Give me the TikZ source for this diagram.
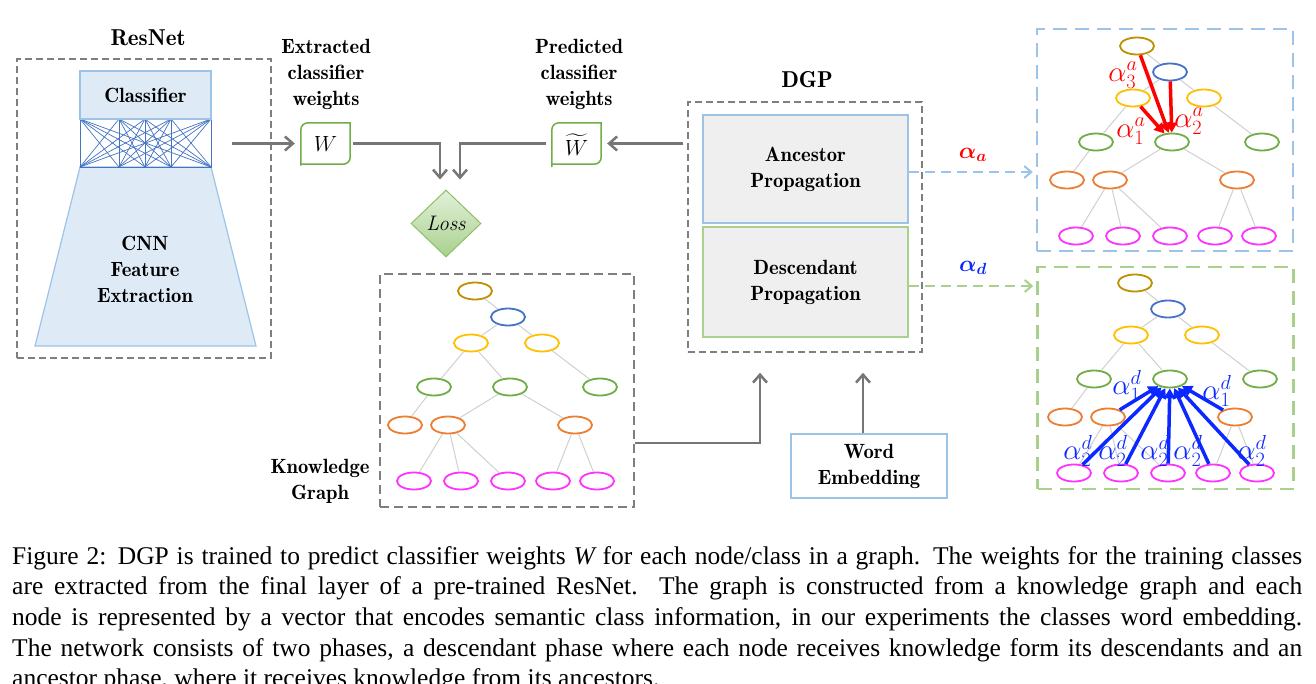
\documentclass[tikz,border=0pt]{standalone}
\usepackage{fix-cm}
\usepackage{amsmath,bm}
\usepackage{fontspec}
\newfontfamily\capfont{Liberation Serif}
\newfontfamily\demifont{lmromandemi10-regular.otf}
\usetikzlibrary{arrows.meta,shapes.geometric,calc}

\definecolor{boxgray}{HTML}{7F7F7F}
\definecolor{arrgray}{HTML}{767676}
\definecolor{ltblue}{HTML}{9DC3E6}
\definecolor{fillblue}{HTML}{DEEBF7}
\definecolor{meshblue}{HTML}{4472C4}
\definecolor{ltgreen}{HTML}{A9D18E}
\definecolor{wgreen}{HTML}{70AD47}
\definecolor{propgray}{HTML}{EFEFEF}
\definecolor{lossTop}{HTML}{E2F0D9}
\definecolor{lossBot}{HTML}{A9D18E}
\definecolor{lossEdge}{HTML}{8CC068}
\definecolor{cRoot}{HTML}{BF9000}
\definecolor{cBlue}{HTML}{4472C4}
\definecolor{cYellow}{HTML}{FFC000}
\definecolor{cGreen}{HTML}{70AD47}
\definecolor{cOrange}{HTML}{ED7D31}
\definecolor{cPink}{HTML}{FF33FF}
\definecolor{edgegray}{HTML}{D0D0D0}
\definecolor{alphared}{HTML}{FF0000}
\definecolor{alphablue}{HTML}{0A28FF}

\tikzset{
    lab/.style={font=\demifont\fontsize{20.6}{26}\selectfont, align=center, inner sep=0pt},
    bigtitle/.style={font=\demifont\fontsize{23}{28}\selectfont, inner sep=0pt},
    graybox/.style={draw=boxgray, line width=1.5pt, dash pattern=on 7pt off 4pt, inner sep=0pt},
    kgbox/.style={draw=boxgray, line width=2pt, dash pattern=on 9pt off 5pt, inner sep=0pt},
    grayarr/.style={draw=arrgray, line width=2.5pt, -{Straight Barb[length=8pt,width=14pt]}},
    propbox/.style={lab, fill=propgray, line width=2pt, minimum width=205pt},
    gnode/.style={ellipse, draw=#1, line width=1.8pt, minimum width=34pt, minimum height=17pt, inner sep=0pt},
    gedge/.style={draw=edgegray, line width=1pt},
    dashbox/.style={draw=#1, line width=2.5pt, dash pattern=on 14pt off 8pt, inner sep=0pt,
        minimum width=256pt, minimum height=222pt},
    dasharr/.style={draw=#1, line width=2pt, dash pattern=on 10pt off 6pt, -{Straight Barb[length=7pt,width=12pt]}},
    thickarr/.style={draw=#1, line width=3.5pt, -{Triangle[length=10pt,width=11pt]}},
    alab/.style={font=\fontsize{23}{26}\selectfont, inner sep=0pt},
    glab/.style={font=\fontsize{29}{32}\selectfont, inner sep=0pt},
    capline/.style={font=\capfont\fontsize{25.5}{30.6}\selectfont, inner sep=0pt, anchor=base west},
}

% class hierarchy, reused three times
\newcommand{\kgraph}{%
    \node[gnode=cRoot] (r) at (475,291) {};
    \node[gnode=cBlue] (b) at (508,317) {};
    \node[gnode=cYellow] (y1) at (471,343) {};
    \node[gnode=cYellow] (y2) at (542,343) {};
    \node[gnode=cGreen] (g1) at (434,387) {};
    \node[gnode=cGreen] (g2) at (510,387) {};
    \node[gnode=cGreen] (g3) at (600,387) {};
    \node[gnode=cOrange] (o1) at (405,425) {};
    \node[gnode=cOrange] (o2) at (448,425) {};
    \node[gnode=cOrange] (o3) at (575,425) {};
    \foreach \x[count=\i] in {414,461,508,553,597}
        \node[gnode=cPink] (m\i) at (\x,481) {};
    \foreach \a/\b in {r/b, b/y1, b/y2, y1/g1, y1/g2, y2/g3, g1/o1, g2/o2, g2/o3,
                       o2/m1, o2/m2, o2/m3, o3/m4, o3/m5}
        \draw[gedge] (\a) -- (\b);
}

\begin{document}
\begin{tikzpicture}[x=1pt, y=-1pt]
    \fill[white] (0,0) rectangle (1316,683);
    \useasboundingbox (0,0) rectangle (1316,683);

    % ResNet
    \node[bigtitle] (resnettitle) at (148,38) {ResNet};
    \node[graybox, minimum width=254pt, minimum height=299pt] (resnet) at (144,208.5) {};
    \draw[fill=fillblue, draw=ltblue, line width=1.2pt] (80,167) -- (211,167) -- (256,346) -- (35,346) -- cycle;
    \foreach \a in {80,119,145,171,211}
        \foreach \b in {80,119,145,171,211}
            \draw[meshblue, line width=0.7pt] (\a,119) -- (\b,167);
    \draw[meshblue, line width=0.8pt] (80,119) rectangle (211,167);
    \node[lab, fill=fillblue, draw=ltblue, line width=1.2pt, minimum width=131pt, minimum height=48pt] (cls) at (145.5,95) {Classifier};
    \node[lab] (cnn) at (145,269) {CNN\\Feature\\Extraction};

    % classifier weights and loss
    \node[lab] (extlab) at (326,74) {Extracted\\classifier\\weights};
    \node[lab] (predlab) at (579,74) {Predicted\\classifier\\weights};
    \node[lab, font=\fontsize{22}{26}\selectfont, minimum width=49pt, minimum height=41pt] (w) at (325.5,143.5) {$W$};
    \node[lab, font=\fontsize{22}{26}\selectfont, minimum width=49pt, minimum height=41pt] (wt) at (576.5,145) {$\widetilde{W}$};
    \foreach \n in {w,wt}
        \draw[wgreen, line width=1.5pt] ([yshift=-1.5pt]\n.south west) -- ([yshift=-7pt]\n.north west |- w.north)
            arc[start angle=180, end angle=90, radius=7pt] -- (\n.east |- w.north)
            -- ([yshift=7pt]\n.east |- w.south) arc[start angle=0, end angle=-90, radius=7pt] -- (\n.west |- w.south) -- cycle;
    \node[diamond, aspect=1, minimum width=70pt, minimum height=67pt, inner sep=0pt,
          top color=lossTop, bottom color=lossBot, draw=lossEdge, line width=1pt,
          font=\fontsize{21}{26}\selectfont\itshape] (loss) at (446,223.5) {Loss};

    \coordinate (resout) at (232,143.5);
    \draw[grayarr, shorten >=6pt] (resout) -- (w.west);
    \draw[grayarr, shorten <=3pt] (w.east) -| ([xshift=-6pt,yshift=10pt]loss.north);
    \draw[grayarr, shorten <=6pt] (wt.west |- w.west) -| ([xshift=14pt,yshift=10pt]loss.north);

    % DGP
    \node[bigtitle] (dgptitle) at (807,80) {DGP};
    \node[graybox, minimum width=234pt, minimum height=250pt] (dgp) at (805,227) {};
    \node[propbox, draw=ltblue, minimum height=108pt] (anc) at (805.5,169) {Ancestor\\Propagation};
    \node[propbox, draw=ltgreen, minimum height=110pt] (des) at (805.5,282) {Descendant\\Propagation};
    \draw[grayarr, shorten <=4pt, shorten >=6pt] (dgp.west |- w.east) -- (wt.east |- w.east);

    % knowledge graph and word embedding
    \node[kgbox, minimum width=254pt, minimum height=233pt] (kg) at (507,390.5) {};
    \kgraph
    \node[lab] (kglab) at (320,481) {Knowledge\\Graph};
    \node[lab, draw=ltblue, line width=1.2pt, minimum width=156pt, minimum height=64pt] (wordemb) at (869,466) {Word\\Embedding};
    \coordinate (dgpin1) at ([xshift=-45pt,yshift=-20pt]dgp.south);
    \coordinate (dgpin2) at ([xshift=58pt,yshift=-20pt]dgp.south);
    \draw[grayarr] (kg.east |- 0,443) -| (dgpin1);
    \draw[grayarr] (wordemb.north -| dgpin2) -- (dgpin2);

    % ancestor weights
    \node[dashbox=ltblue] (ancbox) at (1165,140) {};
    \begin{scope}[shift={(662,-245)}, name prefix=anc-]
        \kgraph
        \foreach \s in {r,b,y1}
            \draw[thickarr=alphared] (\s) -- (g2);
    \end{scope}
    \draw[dasharr=ltblue, shorten >=3pt] ([yshift=-3pt]anc.east) -- ([yshift=-3pt]anc.east -| ancbox.west);
    \node[alab, text=alphared] (alpha-a) at (973,155) {$\bm{\alpha_a}$};
    \node[glab, text=alphared] (a3) at (1123,75) {$\alpha_3^a$};
    \node[glab, text=alphared] (a1) at (1131,131) {$\alpha_1^a$};
    \node[glab, text=alphared] (a2) at (1189,121) {$\alpha_2^a$};

    % descendant weights
    \node[dashbox=ltgreen] (desbox) at (1165.5,378) {};
    \begin{scope}[shift={(660,-8)}, name prefix=des-]
        \kgraph
        \foreach \s in {o2,o3,m1,m2,m3,m4,m5}
            \draw[thickarr=alphablue] (\s) -- (g2);
    \end{scope}
    \draw[dasharr=ltgreen, shorten >=3pt] ([yshift=-4pt]des.east) -- ([yshift=-4pt]des.east -| desbox.west);
    \node[alab, text=alphablue] (alpha-d) at (973,268) {$\bm{\alpha_d}$};
    \node[glab, text=alphablue] (d1l) at (1127,386) {$\alpha_1^d$};
    \node[glab, text=alphablue] (d1r) at (1217,391) {$\alpha_1^d$};
    \foreach \x[count=\i] in {1078,1113,1155,1188,1252}
        \node[glab, text=alphablue] (d2-\i) at (\x,451) {$\alpha_2^d$};

    % caption
    \node[capline] (cap1) at (12,564) {\makebox[1290pt][s]{Figure 2: DGP is trained to predict classifier weights {\itshape W} for each node/class in a graph. The weights for the training classes}};
    \node[capline] (cap2) at (12,594.7) {\makebox[1290pt][s]{are extracted from the final layer of a pre-trained ResNet.\ \ The graph is constructed from a knowledge graph and each}};
    \node[capline] (cap3) at (12,625.4) {\makebox[1290pt][s]{node is represented by a vector that encodes semantic class information, in our experiments the classes word embedding.}};
    \node[capline] (cap4) at (12,656.1) {\makebox[1290pt][s]{The network consists of two phases, a descendant phase where each node receives knowledge form its descendants and an}};
    \node[capline] (cap5) at (12,686.8) {ancestor phase, where it receives knowledge from its ancestors.};
\end{tikzpicture}
\end{document}
